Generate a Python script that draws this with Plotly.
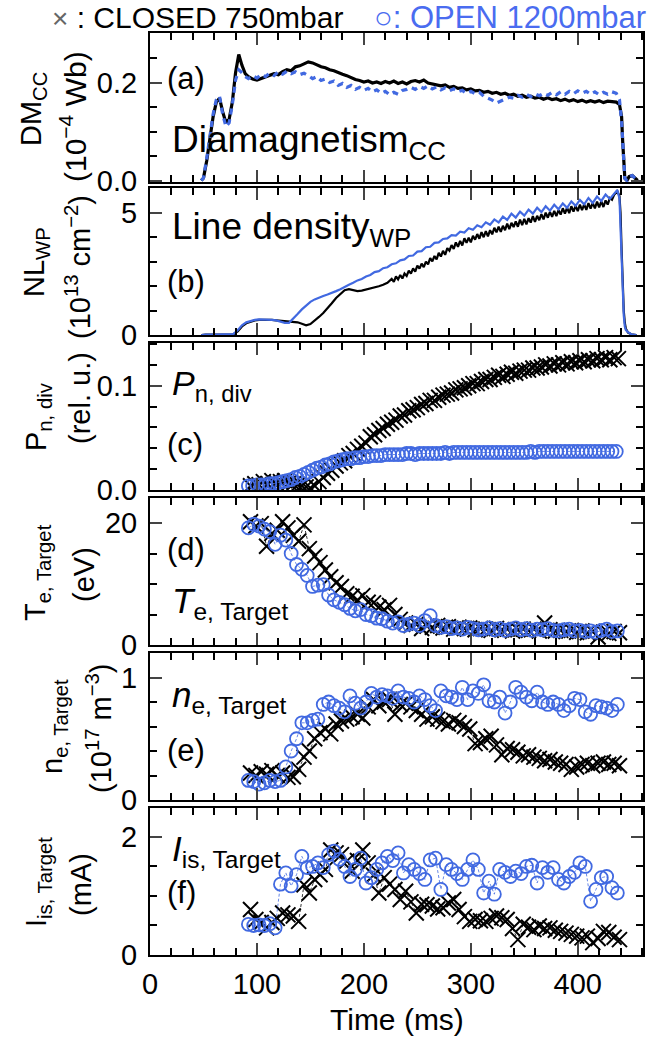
import plotly.graph_objects as go

# ---------------- data ----------------
# (a) diamagnetism DM_CC (1e-4 Wb)
DM_T = [48, 50, 53, 56, 59, 62, 65, 68, 71, 74, 77, 80, 83, 86, 89, 92,
        96, 100, 104, 108, 112, 116, 120, 124, 128, 132, 136, 140, 144, 148, 152, 156, 160, 164, 168, 172,
        176, 180, 184, 188, 192, 196, 200, 204, 208, 212, 216, 220, 224, 228, 232, 236, 240, 244, 248, 252,
        256, 260, 264, 268, 272, 276, 280, 284, 288, 292, 296, 300, 304, 308, 312, 316, 320, 324, 328, 332,
        336, 340, 344, 348, 352, 356, 360, 364, 368, 372, 376, 380, 384, 388, 392, 396, 400, 404, 408, 412,
        416, 420, 424, 428, 432, 436,
        439, 441, 442, 443, 444, 446, 448, 451, 454, 456]
DM_CLOSED = [0.0, 0.005, 0.04, 0.09, 0.13, 0.16, 0.168, 0.14, 0.118, 0.125, 0.16, 0.22, 0.257, 0.235, 0.218, 0.212,
             0.207, 0.205, 0.208, 0.212, 0.214, 0.218, 0.216, 0.222, 0.226, 0.224,
             0.232, 0.234, 0.238, 0.242, 0.240, 0.236, 0.232, 0.230, 0.226, 0.224,
             0.220, 0.217, 0.214, 0.210, 0.206, 0.204, 0.201, 0.203, 0.199, 0.201,
             0.198, 0.202, 0.199, 0.203, 0.198, 0.201, 0.197, 0.202, 0.204, 0.201,
             0.205, 0.199, 0.197, 0.195, 0.193, 0.195, 0.190, 0.192, 0.188, 0.189,
             0.185, 0.187, 0.183, 0.184, 0.180, 0.182, 0.178, 0.180, 0.176, 0.178,
             0.174, 0.176, 0.172, 0.174, 0.170, 0.172, 0.168, 0.170, 0.166, 0.169,
             0.165, 0.167, 0.163, 0.166, 0.162, 0.165, 0.161, 0.164, 0.160, 0.163,
             0.160, 0.163, 0.159, 0.162, 0.161, 0.160,
             0.155, 0.13, 0.08, 0.03, 0.005, 0.0, 0.008, 0.01, 0.004, 0.0]
DM_OPEN = [0.0, 0.005, 0.045, 0.095, 0.135, 0.165, 0.172, 0.135, 0.110, 0.118, 0.155, 0.205, 0.226, 0.220, 0.212, 0.208,
           0.214, 0.209, 0.216, 0.212, 0.219, 0.214, 0.222, 0.217, 0.223, 0.218,
           0.222, 0.216, 0.219, 0.214, 0.208, 0.212, 0.204, 0.207, 0.200, 0.203,
           0.194, 0.198, 0.190, 0.194, 0.186, 0.190, 0.184, 0.188, 0.181, 0.185,
           0.178, 0.182, 0.175, 0.180, 0.176, 0.184, 0.186, 0.190, 0.186, 0.192,
           0.188, 0.193, 0.187, 0.191, 0.185, 0.189, 0.183, 0.187, 0.181, 0.184,
           0.178, 0.182, 0.177, 0.180, 0.172, 0.168, 0.164, 0.158, 0.162, 0.166,
           0.170, 0.168, 0.174, 0.170, 0.176, 0.171, 0.177, 0.173, 0.178, 0.174,
           0.180, 0.175, 0.181, 0.176, 0.182, 0.177, 0.183, 0.178, 0.182, 0.176,
           0.181, 0.175, 0.180, 0.176, 0.181, 0.178,
           0.165, 0.12, 0.07, 0.02, 0.004, 0.0, 0.008, 0.01, 0.004, 0.0]

# (b) line density NL_WP (1e13 cm^-2)
NL_T_CLOSED = [48, 52, 60, 70, 78,
               82, 86, 90, 94, 98, 102, 106, 110, 114, 118, 122, 126, 130, 134, 138, 142, 146, 150,
               154, 158, 162, 166, 170, 174, 178, 182, 186, 190, 194, 198, 202, 206, 210, 214, 218, 222,
               226, 228, 230, 232, 234, 236, 238, 240, 242, 244, 246, 248, 250, 252, 254, 256, 258, 260,
               262, 264, 266, 268, 270, 272, 274, 276, 278, 280, 282, 284, 286, 288, 290, 292, 294, 296,
               298, 300, 302, 304, 306, 308, 310, 312, 314, 316, 318, 320, 322, 324, 326, 328, 330, 332,
               334, 336, 338, 340, 342, 344, 346, 348, 350, 352, 354, 356, 358, 360, 362, 364, 366, 368,
               370, 372, 374, 376, 378, 380, 382, 384, 386, 388, 390, 392, 394, 396, 398, 400, 402, 404,
               406, 408, 410, 412, 414, 416, 418, 420, 422, 424, 426, 428, 430, 432, 434,
               437, 439, 440, 441, 442, 443, 444, 445, 447, 450, 455]
NL_CLOSED = [0.0, 0.02, 0.02, 0.02, 0.03,
             0.15, 0.35, 0.48, 0.55, 0.6, 0.62, 0.63, 0.62, 0.62, 0.6,
             0.58, 0.56, 0.55, 0.53, 0.52, 0.46, 0.40, 0.45, 0.58, 0.74,
             0.9, 1.08, 1.3, 1.52, 1.7, 1.84, 1.88, 1.84, 1.80, 1.82,
             1.86, 1.9, 1.94, 2.0, 2.06, 2.14,
             2.30, 2.18, 2.40, 2.28, 2.46, 2.32, 2.52, 2.42, 2.64, 2.52,
             2.73, 2.60, 2.85, 2.72, 2.93, 2.78, 3.01, 2.90, 3.15, 3.02,
             3.24, 3.10, 3.37, 3.22, 3.45, 3.29, 3.56, 3.46, 3.69, 3.53,
             3.80, 3.62, 3.86, 3.67, 3.97, 3.78, 3.99, 3.80, 4.07, 3.91,
             4.14, 3.95, 4.22, 4.01, 4.26, 4.05, 4.30, 4.13, 4.40, 4.21,
             4.44, 4.23, 4.48, 4.30, 4.57, 4.34, 4.60, 4.43, 4.66, 4.44,
             4.73, 4.51, 4.76, 4.54, 4.79, 4.61, 4.88, 4.64, 4.89, 4.71,
             4.96, 4.74, 5.02, 4.81, 5.05, 4.85, 5.09, 4.88, 5.12, 4.94,
             5.20, 4.98, 5.22, 5.00, 5.28, 5.06, 5.30, 5.08, 5.35, 5.12,
             5.36, 5.13, 5.41, 5.18, 5.42, 5.19, 5.47, 5.24, 5.48, 5.25,
             5.52, 5.35, 5.62, 5.55, 5.75,
             5.9, 5.7, 5.0, 3.5, 2.0, 1.0, 0.5, 0.25, 0.1, 0.03, 0.0]
NL_T_OPEN = [48, 52, 60, 70, 78,
             82, 86, 90, 94, 98, 102, 106, 110, 114, 118, 122, 126, 130, 134, 138, 142, 146, 150, 154, 158,
             162, 166, 170, 174, 178, 182, 186, 190, 194, 198, 202, 206, 210, 214, 218, 222, 226, 230, 234, 238,
             242, 246, 250, 254, 258, 262, 266, 270, 274, 278, 282, 286, 290, 294, 298, 302, 306, 310, 314, 318,
             322, 326, 330, 334, 338, 342, 346, 350, 354, 358, 362, 366, 370, 374, 378, 382, 386, 390, 394, 398,
             402, 406, 410, 414, 418, 422, 426, 430, 434,
             437, 439, 440, 441, 442, 443, 444, 445, 447, 450, 455]
NL_OPEN = [0.0, 0.02, 0.02, 0.02, 0.04,
           0.2, 0.4, 0.52, 0.58, 0.62, 0.64, 0.64, 0.63, 0.62, 0.6,
           0.56, 0.5, 0.5, 0.66, 0.86, 1.05, 1.22, 1.36, 1.46, 1.54,
           1.6, 1.66, 1.72, 1.8, 1.88, 1.98, 2.06, 2.14, 2.24, 2.3,
           2.4, 2.46, 2.58, 2.62, 2.74, 2.78, 2.9, 2.94, 3.06, 3.1,
           3.24, 3.26, 3.42, 3.44, 3.6, 3.62, 3.78, 3.8, 3.94, 3.96,
           4.1, 4.08, 4.24, 4.2, 4.38, 4.32, 4.5, 4.42, 4.62, 4.52,
           4.74, 4.62, 4.86, 4.72, 4.98, 4.82, 5.06, 4.9, 5.14, 4.98,
           5.22, 5.04, 5.28, 5.1, 5.34, 5.16, 5.4, 5.22, 5.48, 5.3,
           5.54, 5.36, 5.62, 5.42, 5.68, 5.5, 5.76, 5.58, 5.82,
           5.95, 5.6, 4.5, 3.0, 1.6, 0.8, 0.35, 0.2, 0.12, 0.03, 0.0]

# (c) divertor neutral pressure P_n,div (rel. u.)
PN_T_CLOSED = [94, 98, 102, 106, 110, 114, 118, 122, 126, 130, 134, 138, 142, 146, 150, 154, 158, 162,
               166, 170, 174, 178, 182, 186, 190, 194, 198, 202, 206, 210, 214, 218, 222, 226, 230, 234,
               238, 242, 246, 250, 254, 258, 262, 266, 270, 274, 278, 282, 286, 290, 294, 298, 302, 306,
               310, 314, 318, 322, 326, 330, 334, 338, 342, 346, 350, 354, 358, 362, 366, 370, 374, 378,
               382, 386, 390, 394, 398, 402, 406, 410, 414, 418, 422, 426, 430, 434, 438]
PN_CLOSED = [0.004, 0.006, 0.005, 0.008, 0.006, 0.009, 0.007, 0.008, 0.009, 0.007,
             0.006, 0.005, 0.004, 0.003, 0.002, 0.004, 0.008, 0.012, 0.016, 0.019,
             0.023, 0.026, 0.028, 0.033, 0.035, 0.039, 0.042, 0.045, 0.051, 0.053,
             0.057, 0.059, 0.063, 0.065, 0.067, 0.071, 0.072, 0.076, 0.077, 0.079,
             0.082, 0.083, 0.086, 0.086, 0.089, 0.091, 0.092, 0.093, 0.096, 0.097,
             0.098, 0.100, 0.102, 0.102, 0.104, 0.106, 0.106, 0.108, 0.110, 0.109,
             0.111, 0.113, 0.112, 0.114, 0.115, 0.115, 0.117, 0.117, 0.118, 0.120,
             0.119, 0.121, 0.120, 0.122, 0.121, 0.123, 0.122, 0.124, 0.123, 0.125,
             0.124, 0.126, 0.125, 0.127, 0.125, 0.127, 0.126]
PN_T_OPEN = [92, 96, 100, 104, 108, 112, 116, 120, 124, 128, 132, 136, 140, 144, 148, 152, 156, 160,
             164, 168, 172, 176, 180, 184, 188, 192, 196, 200, 204, 208, 212, 216, 220, 224, 228, 232,
             236, 240, 244, 248, 252, 256, 260, 264, 268, 272, 276, 280, 284, 288, 292, 296, 300, 304,
             308, 312, 316, 320, 324, 328, 332, 336, 340, 344, 348, 352, 356, 360, 364, 368, 372, 376,
             380, 384, 388, 392, 396, 400, 404, 408, 412, 416, 420, 424, 428, 432, 436]
PN_OPEN = [0.004, 0.004, 0.005, 0.005, 0.005, 0.006, 0.006, 0.007, 0.008, 0.009,
           0.010, 0.012, 0.013, 0.015, 0.017, 0.019, 0.021, 0.022, 0.024, 0.025,
           0.027, 0.028, 0.029, 0.030, 0.030, 0.031, 0.031, 0.032, 0.032, 0.033,
           0.033, 0.033, 0.034, 0.034, 0.034, 0.034, 0.034, 0.035, 0.035, 0.034,
           0.035, 0.035, 0.035, 0.035, 0.035, 0.035, 0.036, 0.035, 0.036, 0.036,
           0.036, 0.036, 0.036, 0.036, 0.036, 0.036, 0.036, 0.036, 0.036, 0.036,
           0.036, 0.036, 0.036, 0.036, 0.036, 0.036, 0.037, 0.036, 0.037, 0.037,
           0.037, 0.037, 0.037, 0.037, 0.037, 0.037, 0.037, 0.037, 0.037, 0.037,
           0.037, 0.037, 0.037, 0.037, 0.037, 0.037, 0.037]

# probe times for (d)-(f)
PROBE_T_CLOSED = [94, 99, 104, 109, 114, 119, 124, 129, 134, 139, 144, 149, 154, 159, 164, 169, 174, 179,
                  184, 189, 194, 199, 204, 209, 214, 219, 224, 229, 234, 239, 244, 249, 254, 259, 264, 269,
                  274, 279, 284, 289, 294, 299, 304, 309, 314, 319, 324, 329, 334, 339, 344, 349, 354, 359,
                  364, 369, 374, 379, 384, 389, 394, 399, 404, 409, 414, 419, 424, 429, 434, 439]
PROBE_T_OPEN = [92, 97, 102, 107, 112, 117, 122, 127, 132, 137, 142, 147, 152, 157, 162, 167, 172, 177,
                182, 187, 192, 197, 202, 207, 212, 217, 222, 227, 232, 237, 242, 247, 252, 257, 262, 267,
                272, 277, 282, 287, 292, 297, 302, 307, 312, 317, 322, 327, 332, 337, 342, 347, 352, 357,
                362, 367, 372, 377, 382, 387, 392, 397, 402, 407, 412, 417, 422, 427, 432, 437]

# (d) T_e,Target (eV)
TE_CLOSED = [20.2, 19.5, 19.9, 16.2, 18.3, 18.8, 20.2, 19.2, 18.0, 17.0,
             19.7, 15.8, 14.6, 13.5, 12.3, 11.2, 10.2, 9.6, 8.4, 8.0,
             7.4, 8.1, 7.0, 6.9, 6.2, 5.8, 6.5, 5.0, 4.2, 3.6,
             3.2, 3.4, 2.7, 3.1, 2.9, 3.2, 2.8, 3.0, 2.6, 2.9,
             2.7, 2.8, 2.5, 2.7, 2.6, 2.4, 2.7, 2.5, 2.6, 2.3,
             2.5, 2.6, 2.4, 2.6, 2.3, 3.6, 2.5, 2.3, 2.4, 2.2,
             2.4, 2.1, 2.3, 2.0, 2.2, 1.3, 2.1, 1.9, 2.2, 2.0]
TE_OPEN = [19.2, 19.8, 19.5, 19.0, 18.6, 16.5, 18.0, 17.2, 15.0, 13.2,
           12.4, 11.4, 9.6, 9.8, 9.9, 8.2, 7.4, 7.0, 6.6, 6.0,
           5.6, 5.8, 5.0, 4.8, 4.4, 4.3, 3.9, 3.6, 3.8, 3.2,
           3.4, 3.6, 3.2, 4.0, 4.8, 3.2, 2.9, 3.0, 2.7, 2.8,
           2.6, 2.9, 2.7, 2.5, 2.6, 2.8, 2.5, 2.7, 2.4, 2.6,
           2.8, 2.5, 2.7, 2.4, 2.6, 2.5, 2.7, 2.4, 2.3, 2.5,
           2.6, 2.3, 2.4, 2.2, 2.3, 2.1, 2.4, 2.6, 2.2, 2.3]

# (e) n_e,Target (1e17 m^-3)
NE_CLOSED = [0.22, 0.20, 0.23, 0.21, 0.24, 0.20, 0.22, 0.185, 0.19, 0.25,
             0.35, 0.40, 0.50, 0.55, 0.58, 0.54, 0.62, 0.645, 0.66, 0.68,
             0.70, 0.67, 0.76, 0.82, 0.77, 0.80, 0.82, 0.70, 0.78, 0.79,
             0.76, 0.73, 0.70, 0.66, 0.68, 0.66, 0.64, 0.62, 0.65, 0.63,
             0.60, 0.58, 0.46, 0.47, 0.50, 0.52, 0.45, 0.37, 0.42, 0.41,
             0.39, 0.36, 0.37, 0.35, 0.34, 0.32, 0.33, 0.31, 0.30, 0.29,
             0.25, 0.27, 0.29, 0.30, 0.28, 0.30, 0.31, 0.29, 0.30, 0.28]
NE_OPEN = [0.16, 0.15, 0.13, 0.14, 0.16, 0.15, 0.16, 0.27, 0.40, 0.50,
           0.63, 0.63, 0.65, 0.66, 0.78, 0.80, 0.77, 0.75, 0.72, 0.85,
           0.79, 0.75, 0.80, 0.87, 0.84, 0.86, 0.85, 0.83, 0.89, 0.84,
           0.83, 0.80, 0.85, 0.82, 0.77, 0.73, 0.89, 0.85, 0.84, 0.82,
           0.92, 0.82, 0.89, 0.87, 0.94, 0.81, 0.80, 0.84, 0.71, 0.80,
           0.92, 0.88, 0.84, 0.81, 0.88, 0.80, 0.78, 0.80, 0.78, 0.73,
           0.77, 0.83, 0.82, 0.72, 0.70, 0.77, 0.76, 0.75, 0.73, 0.78]

# (f) I_is,Target (mA)
IS_CLOSED = [0.77, 0.60, 0.55, 0.46, 0.55, 0.62, 0.71, 0.68, 0.66, 0.57,
             1.19, 1.05, 1.28, 1.36, 1.45, 1.78, 1.73, 1.70, 1.59, 1.42,
             1.60, 1.78, 1.56, 1.35, 1.05, 1.31, 1.20, 1.11, 0.94, 1.08,
             0.90, 0.71, 0.86, 0.85, 0.83, 0.78, 0.80, 0.88, 0.94, 0.77,
             0.65, 0.57, 0.60, 0.58, 0.57, 0.62, 0.66, 0.63, 0.60, 0.45,
             0.26, 0.52, 0.47, 0.43, 0.49, 0.45, 0.46, 0.42, 0.40, 0.37,
             0.35, 0.32, 0.29, 0.32, 0.21, 0.28, 0.40, 0.38, 0.30, 0.26]
IS_OPEN = [0.52, 0.50, 0.51, 0.50, 0.53, 0.46, 1.20, 1.39, 1.17, 1.36,
           1.67, 1.48, 1.50, 1.56, 1.48, 1.70, 1.76, 1.62, 1.50, 1.33,
           1.45, 1.64, 1.22, 1.31, 1.45, 1.56, 1.67, 1.60, 1.73, 1.39,
           1.53, 1.45, 1.38, 1.28, 1.61, 1.64, 1.11, 1.53, 1.45, 1.38,
           1.28, 1.45, 1.61, 1.45, 1.05, 1.25, 1.03, 1.45, 1.40, 1.33,
           1.42, 1.38, 1.50, 1.52, 1.22, 1.48, 1.40, 1.48, 1.28, 1.22,
           1.33, 1.40, 1.56, 1.50, 0.91, 1.11, 1.31, 1.33, 1.14, 1.05]

# ---------------- styling ----------------
BLACK = "#000000"
BLUE = "#4169E1"
FONT = "Liberation Sans, Arial, Helvetica, sans-serif"
W, H = 667, 1038
ML, MR, MT, MB = 150, 24, 33, 83
PW, PH = W - ML - MR, H - MT - MB

def px2x(px):
    return (px - ML) / PW

def py2y(py):
    return (H - MB - py) / PH

# panel pixel top/bottom
PANELS = [(33, 182), (188, 335), (343, 490), (498, 645), (653, 800), (808, 955)]
YRANGES = [[-0.003, 0.301], [0, 6.03], [0, 0.141], [0, 24.1], [0, 1.2], [0, 2.49]]
YDTICK = [0.2, 5, 0.1, 20, 1, 2]
YMINOR = [0.05, 1, 0.02, 5, 0.2, 0.5]
YFMT = [".1f", "d", ".1f", "d", "d", "d"]

fig = go.Figure()

def add(x, y, k, **kw):
    fig.add_trace(go.Scatter(x=x, y=y, xaxis="x" if k == 1 else f"x{k}",
                             yaxis="y" if k == 1 else f"y{k}", showlegend=False, **kw))

# (a)
add(DM_T, DM_CLOSED, 1, mode="lines", line=dict(color=BLACK, width=3.2))
add(DM_T, DM_OPEN, 1, mode="lines", line=dict(color=BLUE, width=3.2, dash="6px,5px"))
# (b)
add(NL_T_CLOSED, NL_CLOSED, 2, mode="lines", line=dict(color=BLACK, width=2.2))
add(NL_T_OPEN, NL_OPEN, 2, mode="lines", line=dict(color=BLUE, width=2.2))

mk_x = dict(symbol="x-thin", size=15, line=dict(color=BLACK, width=2))
mk_o = dict(symbol="circle-open", size=13, color=BLUE, line=dict(color=BLUE, width=1.8))
series = [
    (3, PN_T_CLOSED, PN_CLOSED, PN_T_OPEN, PN_OPEN),
    (4, PROBE_T_CLOSED, TE_CLOSED, PROBE_T_OPEN, TE_OPEN),
    (5, PROBE_T_CLOSED, NE_CLOSED, PROBE_T_OPEN, NE_OPEN),
    (6, PROBE_T_CLOSED, IS_CLOSED, PROBE_T_OPEN, IS_OPEN),
]
for k, tc, yc, to, yo in series:
    add(tc, yc, k, mode="lines+markers", marker=mk_x,
        line=dict(color=BLACK, width=0.8, dash="3px,2px"))
    add(to, yo, k, mode="lines+markers", marker=mk_o,
        line=dict(color=BLUE, width=0.8, dash="3px,2px"))

layout = dict(
    width=W, height=H, autosize=False,
    margin=dict(l=ML, r=MR, t=MT, b=MB),
    paper_bgcolor="white", plot_bgcolor="white",
    font=dict(family=FONT, size=29, color=BLACK),
)
for i in range(6):
    k = i + 1
    top, bot = PANELS[i]
    xa = dict(domain=[0, 1], anchor="y" if k == 1 else f"y{k}", range=[0, 461],
              tick0=0, dtick=100, ticks="inside", ticklen=12, tickwidth=2,
              minor=dict(dtick=20, ticks="inside", ticklen=7, tickwidth=1.6, tickcolor=BLACK),
              showline=True, linewidth=2, linecolor=BLACK, mirror="allticks",
              showgrid=False, zeroline=False, showticklabels=(k == 6),
              tickfont=dict(size=29), ticklabelstandoff=2)
    if k != 6:
        xa["matches"] = "x6"
    ya = dict(domain=[py2y(bot), py2y(top)], anchor="x" if k == 1 else f"x{k}",
              range=YRANGES[i], tick0=0, dtick=YDTICK[i], tickformat=YFMT[i],
              ticks="inside", ticklen=12, tickwidth=2,
              minor=dict(dtick=YMINOR[i], ticks="inside", ticklen=7, tickwidth=1.6, tickcolor=BLACK),
              showline=True, linewidth=2, linecolor=BLACK, mirror="allticks",
              showgrid=False, zeroline=False, tickfont=dict(size=29), ticklabelstandoff=5)
    layout["xaxis" if k == 1 else f"xaxis{k}"] = xa
    layout["yaxis" if k == 1 else f"yaxis{k}"] = ya
fig.update_layout(**layout)

ann = []
def text(s, px, py, size, xanchor="left", angle=0, color=BLACK):
    ann.append(dict(text=s, x=px2x(px), y=py2y(py), xref="paper", yref="paper",
                    xanchor=xanchor, yanchor="middle", showarrow=False, textangle=angle,
                    font=dict(size=size, color=color, family=FONT)))

# header (two pieces: black "closed" key, blue "open" key)
text("<span style='font-size:28px;color:#666'>×</span> : CLOSED 750mbar", 50, 17, 30)
text("○: OPEN 1200mbar", 372, 17, 31, color="#4a6cf0")

# y-axis titles (two rotated lines each)
YT = [
    ("DM<sub>CC</sub>", 33, 109, "(10<sup>−4</sup>&nbsp;Wb)", 73, 117),
    ("NL<sub>WP</sub>", 36, 262, "(10<sup>13</sup> cm<sup>−2</sup>)", 78, 267),
    ("P<sub>n, div</sub>", 38, 417, "(rel. u.)", 80, 398),
    ("T<sub>e, Target</sub>", 37, 573, "(eV)", 84, 575),
    ("n<sub>e, Target</sub>", 54, 727, "(10<sup>17</sup> m<sup>−3</sup>)", 99, 728),
    ("I<sub>is, Target</sub>", 38, 882, "(mA)", 81, 885),
]
for l1, x1, y1, l2, x2, y2 in YT:
    text(l1, x1, y1, 29, xanchor="center", angle=-90)
    text(l2, x2, y2, 30 if "Wb" in l2 else 29, xanchor="center", angle=-90)

# panel labels and inner names
text("(a)", 165, 78, 31)
text("Diamagnetism<sub>CC</sub>", 170, 142, 37)
text("Line density<sub>WP</sub>", 170, 229, 37)
text("(b)", 165, 281, 31)
text("<i>P</i><sub>n, div</sub>", 170, 385, 34)
text("(c)", 165, 445, 31)
text("(d)", 165, 549, 31)
text("<i>T</i><sub>e, Target</sub>", 170, 603, 35)
text("<i>n</i><sub>e, Target</sub>", 170, 697, 35)
text("(e)", 165, 750, 31)
text("<i>I</i><sub>is, Target</sub>", 170, 851, 35)
text("(f)", 165, 892, 31)

# x-axis title
text("Time (ms)", 397, 1019, 30, xanchor="center")

fig.update_layout(annotations=ann)
fig.write_html("out.html")
